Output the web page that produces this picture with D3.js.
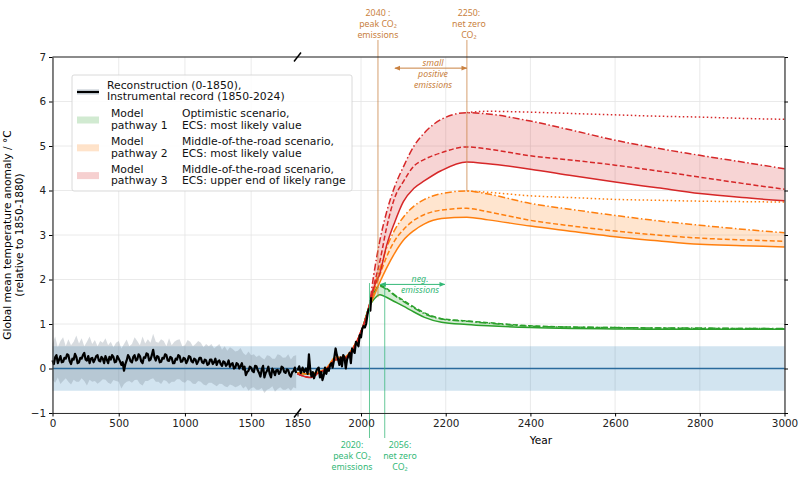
<!DOCTYPE html>
<meta charset="utf-8">

<!-- Load d3.js -->
<script src="https://d3js.org/d3.v7.min.js"></script>

<div id="my_dataviz"></div>
<style>
    body { margin: 0; background-color: white; }
    text { font-family: "DejaVu Sans", sans-serif; }
    .note { font-family: "Noto Sans", sans-serif; font-size: 8.8px; }
</style>
<script>

    // ---- data ----
    // reconstruction, one value every 10 years from year 0 to 1840
    var reconValues = [
        0.18, 0.10, 0.25, 0.30, 0.12, 0.20, 0.28, 0.14, 0.15, 0.24,
        0.22, 0.32, 0.30, 0.16, 0.10, 0.22, 0.20, 0.33, 0.26, 0.12,
        0.14, 0.24, 0.22, 0.30, 0.35, 0.20, 0.18, 0.28, 0.12, 0.22,
        0.24, 0.14, 0.20, 0.28, 0.30, 0.18, 0.16, 0.26, 0.22, 0.12,
        0.28, 0.20, 0.12, 0.26, 0.20, 0.30, 0.26, 0.14, 0.15, 0.28,
        0.22, 0.16, 0.08, 0.14, -0.05, 0.10, 0.18, 0.30, 0.25, 0.16,
        0.14, 0.26, 0.30, 0.18, 0.20, 0.32, 0.28, 0.16, 0.12, 0.25,
        0.24, 0.34, 0.32, 0.18, 0.20, 0.30, 0.42, 0.25, 0.18, 0.28,
        0.26, 0.14, 0.15, 0.24, 0.22, 0.32, 0.30, 0.18, 0.17, 0.26,
        0.24, 0.12, 0.12, 0.22, 0.20, 0.30, 0.28, 0.15, 0.16, 0.24,
        0.22, 0.12, 0.18, 0.28, 0.26, 0.16, 0.14, 0.22, 0.20, 0.10,
        0.16, 0.24, 0.24, 0.14, 0.12, 0.20, 0.18, 0.08, 0.10, 0.20,
        0.20, 0.10, 0.14, 0.22, 0.08, 0.16, 0.18, 0.10, 0.06, 0.16,
        0.14, 0.06, 0.10, 0.18, 0.04, 0.10, 0.12, 0.00, 0.02, 0.12,
        0.10, 0.00, 0.05, 0.12, -0.02, 0.04, -0.15, -0.08, -0.05, 0.04,
        0.02, -0.06, -0.08, 0.06, 0.05, -0.04, -0.10, -0.18, -0.02, 0.06,
        -0.20, -0.10, -0.05, 0.04, -0.12, -0.20, 0.00, -0.06, -0.15, -0.04,
        -0.03, -0.12, -0.08, 0.04, 0.02, -0.08, -0.10, -0.02, -0.04, -0.14,
        -0.18, -0.08, -0.06, 0.02, -0.10];
    // reconstruction uncertainty, one value every 20 years from 0 to 1840
    var reconUpper = [
        0.55, 0.72, 0.48, 0.62, 0.70, 0.50, 0.66, 0.52, 0.60, 0.74,
        0.56, 0.68, 0.50, 0.60, 0.72, 0.55, 0.64, 0.50, 0.62, 0.58,
        0.68, 0.52, 0.60, 0.48, 0.58, 0.62, 0.45, 0.55, 0.65, 0.50,
        0.55, 0.70, 0.62, 0.52, 0.72, 0.56, 0.66, 0.58, 0.78, 0.60,
        0.58, 0.66, 0.62, 0.50, 0.68, 0.52, 0.60, 0.64, 0.66, 0.50,
        0.52, 0.64, 0.60, 0.50, 0.55, 0.62, 0.58, 0.48, 0.55, 0.50,
        0.55, 0.45, 0.50, 0.55, 0.42, 0.50, 0.40, 0.48, 0.44, 0.38,
        0.40, 0.46, 0.35, 0.30, 0.38, 0.30, 0.32, 0.26, 0.30, 0.24,
        0.20, 0.30, 0.28, 0.22, 0.22, 0.32, 0.30, 0.24, 0.25, 0.32,
        0.20, 0.28, 0.30];
    var reconLower = [
        -0.25, -0.32, -0.20, -0.35, -0.28, -0.22, -0.30, -0.36, -0.25, -0.30,
        -0.30, -0.22, -0.28, -0.38, -0.25, -0.30, -0.28, -0.34, -0.30, -0.24,
        -0.25, -0.32, -0.35, -0.26, -0.28, -0.30, -0.45, -0.35, -0.30, -0.28,
        -0.32, -0.26, -0.25, -0.34, -0.38, -0.28, -0.28, -0.24, -0.22, -0.30,
        -0.30, -0.35, -0.26, -0.28, -0.35, -0.30, -0.30, -0.24, -0.24, -0.30,
        -0.32, -0.26, -0.28, -0.34, -0.35, -0.28, -0.30, -0.36, -0.38, -0.32,
        -0.32, -0.36, -0.40, -0.34, -0.35, -0.40, -0.42, -0.36, -0.38, -0.42,
        -0.40, -0.36, -0.45, -0.40, -0.50, -0.44, -0.42, -0.48, -0.48, -0.44,
        -0.55, -0.48, -0.45, -0.40, -0.52, -0.46, -0.42, -0.48, -0.48, -0.44,
        -0.50, -0.42, -0.45];

    // instrumental record
    var instYears = [1850, 1854, 1858, 1862, 1866, 1870, 1874, 1877, 1880, 1883, 1886, 1889, 1892, 1896,
        1900, 1903, 1906, 1909, 1912, 1915, 1918, 1921, 1924, 1927, 1930, 1933, 1936, 1940,
        1943, 1946, 1949, 1952, 1955, 1958, 1961, 1964, 1967, 1970, 1973, 1976, 1979, 1982,
        1985, 1988, 1991, 1994, 1997, 2000, 2003, 2006, 2009, 2012, 2015, 2017, 2020, 2022, 2024];
    var instValues = [-0.05, 0.05, -0.10, 0.02, -0.08, 0.00, -0.12, 0.32, -0.02, -0.18, -0.08, -0.22, -0.12, -0.02,
        0.02, -0.20, -0.08, -0.26, -0.15, 0.02, -0.12, 0.00, -0.05, 0.08, 0.12, 0.02, 0.18, 0.45,
        0.30, 0.20, 0.08, 0.25, 0.05, 0.30, 0.25, 0.00, 0.20, 0.28, 0.35, 0.12, 0.45, 0.40,
        0.35, 0.60, 0.55, 0.50, 0.75, 0.70, 0.90, 0.95, 0.92, 1.00, 1.20, 1.30, 1.35, 1.30, 1.60];

    // model pathways
    var modelYears = [1850, 1880, 1900, 1920, 1940, 1960, 1980, 2000, 2020, 2030, 2045, 2060, 2080,
        2100, 2125, 2150, 2190, 2250, 2300, 2400, 2500, 2600, 2700, 2800, 2900, 3000];
    var redSolid = [-0.12, -0.20, -0.10, 0.00, 0.20, 0.22, 0.42, 0.82, 1.40, 1.80, 2.15, 2.75, 3.30,
        3.75, 4.05, 4.22, 4.45, 4.64, 4.60, 4.48, 4.33, 4.19, 4.06, 3.93, 3.84, 3.77];
    var redDashed = [-0.12, -0.20, -0.10, 0.00, 0.20, 0.22, 0.42, 0.83, 1.42, 1.85, 2.43, 3.15, 3.85,
        4.20, 4.55, 4.70, 4.85, 4.98, 4.93, 4.78, 4.68, 4.57, 4.44, 4.30, 4.16, 4.03];
    var redDashDot = [-0.12, -0.20, -0.10, 0.00, 0.20, 0.22, 0.42, 0.84, 1.45, 2.10, 2.90, 3.50, 4.10,
        4.53, 5.00, 5.30, 5.60, 5.75, 5.72, 5.56, 5.35, 5.13, 4.95, 4.79, 4.64, 4.49];
    var orangeSolid = [-0.10, -0.12, -0.08, 0.02, 0.25, 0.25, 0.45, 0.80, 1.38, 1.62, 1.95, 2.25, 2.60,
        2.88, 3.10, 3.25, 3.37, 3.40, 3.34, 3.20, 3.08, 2.96, 2.87, 2.79, 2.76, 2.73];
    var orangeDashed = [-0.10, -0.12, -0.08, 0.02, 0.25, 0.25, 0.45, 0.81, 1.40, 1.72, 2.12, 2.50, 2.88,
        3.12, 3.33, 3.46, 3.56, 3.60, 3.52, 3.33, 3.20, 3.09, 3.00, 2.93, 2.89, 2.86];
    var orangeDashDot = [-0.10, -0.12, -0.08, 0.02, 0.25, 0.25, 0.45, 0.82, 1.42, 1.80, 2.25, 2.70, 3.12,
        3.40, 3.65, 3.80, 3.93, 3.99, 3.92, 3.71, 3.57, 3.44, 3.32, 3.22, 3.13, 3.05];
    var greenSolid = [-0.10, -0.12, -0.10, 0.00, 0.20, 0.22, 0.42, 0.80, 1.40, 1.55, 1.66, 1.60, 1.50,
        1.40, 1.27, 1.15, 1.04, 0.99, 0.96, 0.92, 0.90, 0.89, 0.88, 0.88, 0.88, 0.88];
    var greenDashed = [-0.10, -0.12, -0.10, 0.00, 0.20, 0.22, 0.42, 0.81, 1.42, 1.68, 1.87, 1.80, 1.65,
        1.53, 1.38, 1.25, 1.12, 1.07, 1.03, 0.96, 0.93, 0.92, 0.91, 0.90, 0.90, 0.89];
    var greenDashDot = [-0.10, -0.12, -0.10, 0.00, 0.20, 0.22, 0.42, 0.81, 1.43, 1.70, 1.85, 1.78, 1.64,
        1.51, 1.36, 1.23, 1.11, 1.06, 1.02, 0.95, 0.93, 0.92, 0.91, 0.91, 0.90, 0.90];

    // "peak stays" continuation after net zero
    var dottedYears = [2250, 2300, 2400, 2500, 2600, 2700, 2800, 2900, 3000];
    var redDotted = [5.75, 5.78, 5.76, 5.73, 5.70, 5.67, 5.65, 5.62, 5.60];
    var orangeDotted = [3.99, 3.96, 3.88, 3.84, 3.80, 3.78, 3.76, 3.75, 3.74];

    var xTicks = [0, 500, 1000, 1500, 1850, 2000, 2200, 2400, 2600, 2800, 3000];
    var yTicks = [-1, 0, 1, 2, 3, 4, 5, 6, 7];

    // ---- layout ----
    var W = 800, H = 480;
    var plotL = 52.5, plotR = 784.5, plotT = 57, plotB = 413;

    var svg = d3.select("#my_dataviz")
        .append("svg")
        .attr("width", W)
        .attr("height", H);

    // broken axis: 0-1850 squeezed, 1850-3000 stretched
    var x = d3.scaleLinear()
        .domain([0, 1850, 3000])
        .range([plotL, 297.5, plotR]);
    var y = d3.scaleLinear()
        .domain([-1, 7])
        .range([plotB, plotT]);

    var red = "#d62728", orange = "#ff7f0e", green = "#2ca02c";
    var noteOrange = "#c98140", noteGreen = "#33b877";

    // grid
    svg.append("g").selectAll("line")
        .data(xTicks.filter(function (d) { return d != 1850; }))
        .enter().append("line")
        .attr("x1", function (d) { return x(d); })
        .attr("x2", function (d) { return x(d); })
        .attr("y1", plotT).attr("y2", plotB)
        .attr("stroke", "#e5e5e5").attr("stroke-width", 0.8);
    svg.append("g").selectAll("line")
        .data(yTicks)
        .enter().append("line")
        .attr("x1", plotL).attr("x2", plotR)
        .attr("y1", function (d) { return y(d); })
        .attr("y2", function (d) { return y(d); })
        .attr("stroke", "#e5e5e5").attr("stroke-width", 0.8);

    // +-0.5 band and zero line
    svg.append("rect")
        .attr("x", x(0)).attr("width", x(3000) - x(0))
        .attr("y", y(0.5)).attr("height", y(-0.5) - y(0.5))
        .attr("fill", "#1f77b4").attr("opacity", 0.2);

    // reconstruction uncertainty
    svg.append("path")
        .datum(reconUpper)
        .attr("fill", "#7a8896").attr("opacity", 0.3)
        .attr("d", d3.area()
            .x(function (d, i) { return x(i * 20); })
            .y0(function (d, i) { return y(reconLower[i]); })
            .y1(function (d) { return y(d); }));

    svg.append("line")
        .attr("x1", x(0)).attr("x2", x(3000))
        .attr("y1", y(0)).attr("y2", y(0))
        .attr("stroke", "#2a6a9c").attr("stroke-width", 1.3);

    // model shaded ranges
    var modelIdx = d3.range(modelYears.length);
    function band(lo, hi, color) {
        svg.append("path")
            .datum(modelIdx.filter(function (i) { return modelYears[i] >= 2020; }))
            .attr("fill", color).attr("opacity", 0.2)
            .attr("d", d3.area().curve(d3.curveMonotoneX)
                .x(function (i) { return x(modelYears[i]); })
                .y0(function (i) { return y(lo[i]); })
                .y1(function (i) { return y(hi[i]); }));
    }
    band(redSolid, redDashDot, red);
    band(orangeSolid, orangeDashDot, orange);
    band(greenSolid, greenDashDot, green);

    function curve(years, vals, color, dash) {
        svg.append("path")
            .datum(d3.range(years.length))
            .attr("fill", "none")
            .attr("stroke", color)
            .attr("stroke-width", 1.5)
            .attr("stroke-dasharray", dash)
            .attr("d", d3.line().curve(d3.curveMonotoneX)
                .x(function (i) { return x(years[i]); })
                .y(function (i) { return y(vals[i]); }));
    }
    var dashed = "5,2.5", dashDot = "7,2.5,1.5,2.5", dotted = "1.5,2.5";
    curve(modelYears, greenSolid, green, null);
    curve(modelYears, greenDashed, green, dashed);
    curve(modelYears, greenDashDot, green, dashDot);
    curve(modelYears, orangeSolid, orange, null);
    curve(modelYears, orangeDashed, orange, dashed);
    curve(modelYears, orangeDashDot, orange, dashDot);
    curve(dottedYears, orangeDotted, orange, dotted);
    curve(modelYears, redSolid, red, null);
    curve(modelYears, redDashed, red, dashed);
    curve(modelYears, redDashDot, red, dashDot);
    curve(dottedYears, redDotted, red, dotted);

    // reconstruction + instrumental record
    svg.append("path")
        .datum(reconValues)
        .attr("fill", "none").attr("stroke", "black").attr("stroke-width", 2.2)
        .attr("stroke-linejoin", "round")
        .attr("d", d3.line()
            .x(function (d, i) { return x(i * 10); })
            .y(function (d) { return y(d); }));
    svg.append("path")
        .datum(instValues)
        .attr("fill", "none").attr("stroke", "black").attr("stroke-width", 2.2)
        .attr("stroke-linejoin", "round")
        .attr("d", d3.line()
            .x(function (d, i) { return x(instYears[i]); })
            .y(function (d) { return y(d); }));

    // ---- event markers ----
    function vline(year, y1, y2, color) {
        svg.append("line")
            .attr("x1", x(year)).attr("x2", x(year))
            .attr("y1", y1).attr("y2", y2)
            .attr("stroke", color).attr("stroke-width", 1).attr("opacity", 0.75);
    }
    vline(2040, 40, y(1.6), noteOrange);
    vline(2250, 40, y(3.99), noteOrange);
    vline(2020, y(1.92), 438, noteGreen);
    vline(2056, y(1.92), 438, noteGreen);

    function note(lines, cx, y0, color, italic) {
        var t = svg.append("text")
            .attr("class", "note")
            .attr("text-anchor", "middle")
            .attr("fill", color)
            .style("font-style", italic ? "italic" : "normal");
        lines.forEach(function (s, i) {
            t.append("tspan").attr("x", cx).attr("y", y0 + i * 11).text(s);
        });
    }
    note(["2040 :", "peak CO\u2082", "emissions"], x(2040), 15.5, noteOrange);
    note(["2250:", "net zero", "CO\u2082"], x(2250) + 2, 15.5, noteOrange);
    note(["2020:", "peak CO\u2082", "emissions"], 352, 447.5, noteGreen);
    note(["2056:", "net zero", "CO\u2082"], 400, 447.5, noteGreen);
    note(["small", "positive", "emissions"], 433, 65.5, noteOrange, true);
    note(["neg.", "emissions"], 420, 281.5, noteGreen, true);

    // double-headed arrows
    var defs = svg.append("defs");
    [["arrO", noteOrange], ["arrG", noteGreen]].forEach(function (m) {
        defs.append("marker")
            .attr("id", m[0]).attr("viewBox", "0 0 10 10")
            .attr("refX", 9).attr("refY", 5)
            .attr("markerWidth", 6).attr("markerHeight", 6)
            .attr("orient", "auto-start-reverse")
            .append("path").attr("d", "M0,1L10,5L0,9z").attr("fill", m[1]);
    });
    svg.append("line")
        .attr("x1", x(2080)).attr("x2", x(2250))
        .attr("y1", y(6.75)).attr("y2", y(6.75))
        .attr("stroke", noteOrange).attr("stroke-width", 1)
        .attr("marker-start", "url(#arrO)").attr("marker-end", "url(#arrO)");
    svg.append("line")
        .attr("x1", x(2046)).attr("x2", x(2198))
        .attr("y1", y(1.89)).attr("y2", y(1.89))
        .attr("stroke", noteGreen).attr("stroke-width", 1)
        .attr("marker-start", "url(#arrG)").attr("marker-end", "url(#arrG)");

    // ---- axes ----
    svg.append("g")
        .attr("transform", "translate(0," + plotB + ")")
        .call(d3.axisBottom(x).tickValues(xTicks).tickFormat(d3.format("d"))
            .tickSize(3.5).tickSizeOuter(0).tickPadding(3));
    svg.append("g")
        .attr("transform", "translate(" + plotL + ",0)")
        .call(d3.axisLeft(y).tickValues(yTicks).tickSize(3.5).tickSizeOuter(0).tickPadding(3));
    svg.append("g")
        .attr("transform", "translate(" + plotR + ",0)")
        .call(d3.axisRight(y).tickValues(yTicks).tickFormat("").tickSize(3.5).tickSizeOuter(0));
    svg.append("line")
        .attr("x1", plotL).attr("x2", plotR).attr("y1", plotT).attr("y2", plotT)
        .attr("stroke", "#222").attr("stroke-width", 1.2);
    svg.selectAll(".domain").attr("stroke", "#333").attr("stroke-width", 1.2);
    svg.selectAll(".tick text").style("font-size", "10.4px").attr("fill", "#222");

    // break marks at 1850
    [plotT, plotB].forEach(function (yy) {
        svg.append("line")
            .attr("x1", x(1850) - 3.5).attr("x2", x(1850) + 3.5)
            .attr("y1", yy + 4.5).attr("y2", yy - 4.5)
            .attr("stroke", "black").attr("stroke-width", 1.5);
    });

    // axis labels
    svg.append("text")
        .attr("x", (x(1850) + x(3000)) / 2).attr("y", 444)
        .attr("text-anchor", "middle")
        .style("font-size", "10.6px")
        .text("Year");
    var ylab = svg.append("text")
        .attr("transform", "translate(11," + (plotT + plotB) / 2 + ") rotate(-90)")
        .attr("text-anchor", "middle")
        .style("font-size", "10.6px");
    ylab.append("tspan").attr("x", 0).attr("y", 0).text("Global mean temperature anomaly / \u00b0C");
    ylab.append("tspan").attr("x", 0).attr("y", 12).text("(relative to 1850-1880)");

    // ---- legend ----
    var legend = svg.append("g");
    legend.append("rect")
        .attr("x", 72).attr("y", 75).attr("width", 280).attr("height", 116)
        .attr("rx", 2)
        .attr("fill", "white").attr("fill-opacity", 0.85)
        .attr("stroke", "#d0d0d0").attr("stroke-width", 0.8);
    legend.append("line")
        .attr("x1", 77).attr("x2", 99).attr("y1", 92).attr("y2", 92)
        .attr("stroke", "#6f8090").attr("stroke-width", 5).attr("opacity", 0.45);
    legend.append("line")
        .attr("x1", 77).attr("x2", 99).attr("y1", 92).attr("y2", 92)
        .attr("stroke", "black").attr("stroke-width", 2);

    var legendRows = [
        { color: green, name: ["Model", "pathway 1"], desc: ["Optimistic scenario,", "ECS: most likely value"] },
        { color: orange, name: ["Model", "pathway 2"], desc: ["Middle-of-the-road scenario,", "ECS: most likely value"] },
        { color: red, name: ["Model", "pathway 3"], desc: ["Middle-of-the-road scenario,", "ECS: upper end of likely range"] }
    ];
    function legendText(lines, lx, ly) {
        var t = legend.append("text").style("font-size", "10.8px").attr("fill", "#111");
        lines.forEach(function (s, i) {
            t.append("tspan").attr("x", lx).attr("y", ly + i * 11.7).text(s);
        });
    }
    legendText(["Reconstruction (0-1850),", "Instrumental record (1850-2024)"], 107, 88.5);
    legendRows.forEach(function (r, i) {
        var ly = 117 + i * 27.8;
        legend.append("rect")
            .attr("x", 77).attr("y", ly - 0.5).attr("width", 22).attr("height", 7)
            .attr("fill", r.color).attr("opacity", 0.22);
        legendText(r.name, 111, ly);
        legendText(r.desc, 182, ly);
    });

</script>
